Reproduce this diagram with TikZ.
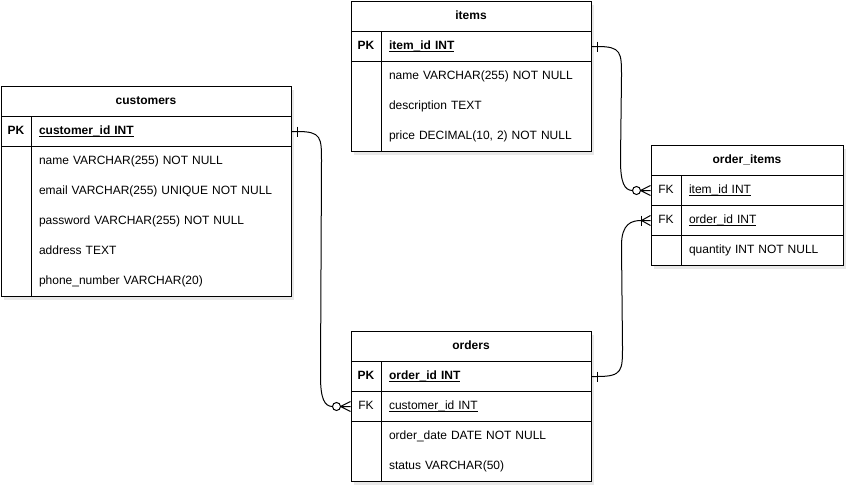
\documentclass[tikz,border=0pt]{standalone}
\usepackage{fontspec}
\setmainfont{Liberation Sans}
\usetikzlibrary{shadows,calc}
\newsavebox\ubox
\newcommand{\keyu}[1]{\sbox\ubox{#1}\rlap{\rule[-2.4pt]{\wd\ubox}{0.8pt}}\usebox\ubox}
\begin{document}
\begin{tikzpicture}[x=1pt,y=-1pt, line width=1pt,
  font=\fontsize{12}{14}\selectfont,
  frame/.style={draw, fill=white, anchor=north west, inner sep=0pt,
    drop shadow={opacity=0.18, shadow xshift=3pt, shadow yshift=-3pt}},
  tabtitle/.style={draw, anchor=north west, minimum height=30pt, inner sep=0pt,
    text height=8.6pt, text depth=3pt,
    font=\fontsize{12}{14}\selectfont\bfseries},
  keycell/.style={draw, anchor=north west, minimum width=30pt, minimum height=30pt, inner sep=0pt,
    text height=8.6pt, text depth=3pt},
  fieldcell/.style={anchor=north west, minimum height=30pt, inner xsep=8pt, inner ysep=0pt,
    text height=8.6pt, text depth=3pt, align=left, text width=#1},
  conn/.style={line width=1pt}
]
\useasboundingbox (0,0) rectangle (852,493);

% ---------------- customers ----------------
\node[frame, minimum width=290pt, minimum height=210pt] (custframe) at (0.5,86) {};
\node[tabtitle, minimum width=290pt] (cust) at (0.5,86) {customers};
\node[keycell, font=\fontsize{12}{14}\selectfont\bfseries] (cpkk) at (0.5,116) {PK};
\node[fieldcell=244pt, draw, font=\fontsize{12}{14}\selectfont\bfseries] (cpk) at (30.5,116) {\keyu{customer\_id INT}};
\node[keycell, minimum height=150pt] (cbk) at (0.5,146) {};
\node[fieldcell=244pt] (c1) at (30.5,146) {name VARCHAR(255) NOT NULL};
\node[fieldcell=244pt] (c2) at (30.5,176) {email VARCHAR(255) UNIQUE NOT NULL};
\node[fieldcell=244pt] (c3) at (30.5,206) {password VARCHAR(255) NOT NULL};
\node[fieldcell=244pt] (c4) at (30.5,236) {address TEXT};
\node[fieldcell=244pt] (c5) at (30.5,266) {phone\_number VARCHAR(20)};

% ---------------- items ----------------
\node[frame, minimum width=240pt, minimum height=150pt] (itemframe) at (350.5,1) {};
\node[tabtitle, minimum width=240pt] (items) at (350.5,1) {items};
\node[keycell, font=\fontsize{12}{14}\selectfont\bfseries] (ipkk) at (350.5,31) {PK};
\node[fieldcell=194pt, draw, font=\fontsize{12}{14}\selectfont\bfseries] (ipk) at (380.5,31) {\keyu{item\_id INT}};
\node[keycell, minimum height=90pt] (ibk) at (350.5,61) {};
\node[fieldcell=194pt] (i1) at (380.5,61) {name VARCHAR(255) NOT NULL};
\node[fieldcell=194pt] (i2) at (380.5,91) {description TEXT};
\node[fieldcell=194pt] (i3) at (380.5,121) {price DECIMAL(10, 2) NOT NULL};

% ---------------- order_items ----------------
\node[frame, minimum width=192pt, minimum height=120pt] (oiframe) at (650.5,145) {};
\node[tabtitle, minimum width=192pt] (oitems) at (650.5,145) {order\_items};
\node[keycell] (oi1k) at (650.5,175) {FK};
\node[fieldcell=146pt, draw] (oi1) at (680.5,175) {\keyu{item\_id INT}};
\node[keycell] (oi2k) at (650.5,205) {FK};
\node[fieldcell=146pt, draw] (oi2) at (680.5,205) {\keyu{order\_id INT}};
\node[keycell] (oibk) at (650.5,235) {};
\node[fieldcell=146pt] (oi3) at (680.5,235) {quantity INT NOT NULL};

% ---------------- orders ----------------
\node[frame, minimum width=240pt, minimum height=150pt] (ordframe) at (350.5,331) {};
\node[tabtitle, minimum width=240pt] (orders) at (350.5,331) {orders};
\node[keycell, font=\fontsize{12}{14}\selectfont\bfseries] (opkk) at (350.5,361) {PK};
\node[fieldcell=194pt, draw, font=\fontsize{12}{14}\selectfont\bfseries] (opk) at (380.5,361) {\keyu{order\_id INT}};
\node[keycell] (ofk) at (350.5,391) {FK};
\node[fieldcell=194pt, draw] (ofkf) at (380.5,391) {\keyu{customer\_id INT}};
\node[keycell, minimum height=60pt] (obk) at (350.5,421) {};
\node[fieldcell=194pt] (o1) at (380.5,421) {order\_date DATE NOT NULL};
\node[fieldcell=194pt] (o2) at (380.5,451) {status VARCHAR(50)};

% ---------------- connectors ----------------
% items.item_id (one) -> order_items.item_id (zero or many)
\draw[conn] (ipk.east) -- ++(6,0) .. controls +(24,0) and +(0,-24) .. ++(24,30)
  -- ($(oi1k.west)+(-30,-30)$) .. controls +(0,22) and +(-8,0) .. ($(oi1k.west)+(-18,0)$);
\draw[conn] ($(ipk.east)+(6,-5)$) -- ++(0,10);
\draw[conn] ($(oi1k.west)+(-14,0)$) circle[radius=4];
\draw[conn] ($(oi1k.west)+(-10,0)$) -- ++(10,-5)
  ($(oi1k.west)+(-10,0)$) -- (oi1k.west)
  ($(oi1k.west)+(-10,0)$) -- ++(10,5);

% orders.order_id (one) -> order_items.order_id (one or many)
\draw[conn] (opk.east) -- ++(6,0) .. controls +(25,0) and +(0,24) .. ++(25,-30)
  -- ($(oi2k.west)+(-29,25)$) .. controls +(0,-22) and +(-10,0) .. ($(oi2k.west)+(-9,0)$) -- (oi2k.west);
\draw[conn] ($(opk.east)+(6,-5)$) -- ++(0,10);
\draw[conn] ($(oi2k.west)+(-9,-5)$) -- ++(0,10);
\draw[conn] ($(oi2k.west)+(-9,0)$) -- ++(9,-5)
  ($(oi2k.west)+(-9,0)$) -- ++(9,5);

% customers.customer_id (one) -> orders.customer_id (zero or many)
\draw[conn] (cpk.east) -- ++(6,0) .. controls +(24,0) and +(0,-24) .. ++(24,30)
  -- ($(ofk.west)+(-30,-30)$) .. controls +(0,22) and +(-8,0) .. ($(ofk.west)+(-18,0)$);
\draw[conn] ($(cpk.east)+(6,-5)$) -- ++(0,10);
\draw[conn] ($(ofk.west)+(-14,0)$) circle[radius=4];
\draw[conn] ($(ofk.west)+(-10,0)$) -- ++(10,-5)
  ($(ofk.west)+(-10,0)$) -- (ofk.west)
  ($(ofk.west)+(-10,0)$) -- ++(10,5);
\end{tikzpicture}
\end{document}
